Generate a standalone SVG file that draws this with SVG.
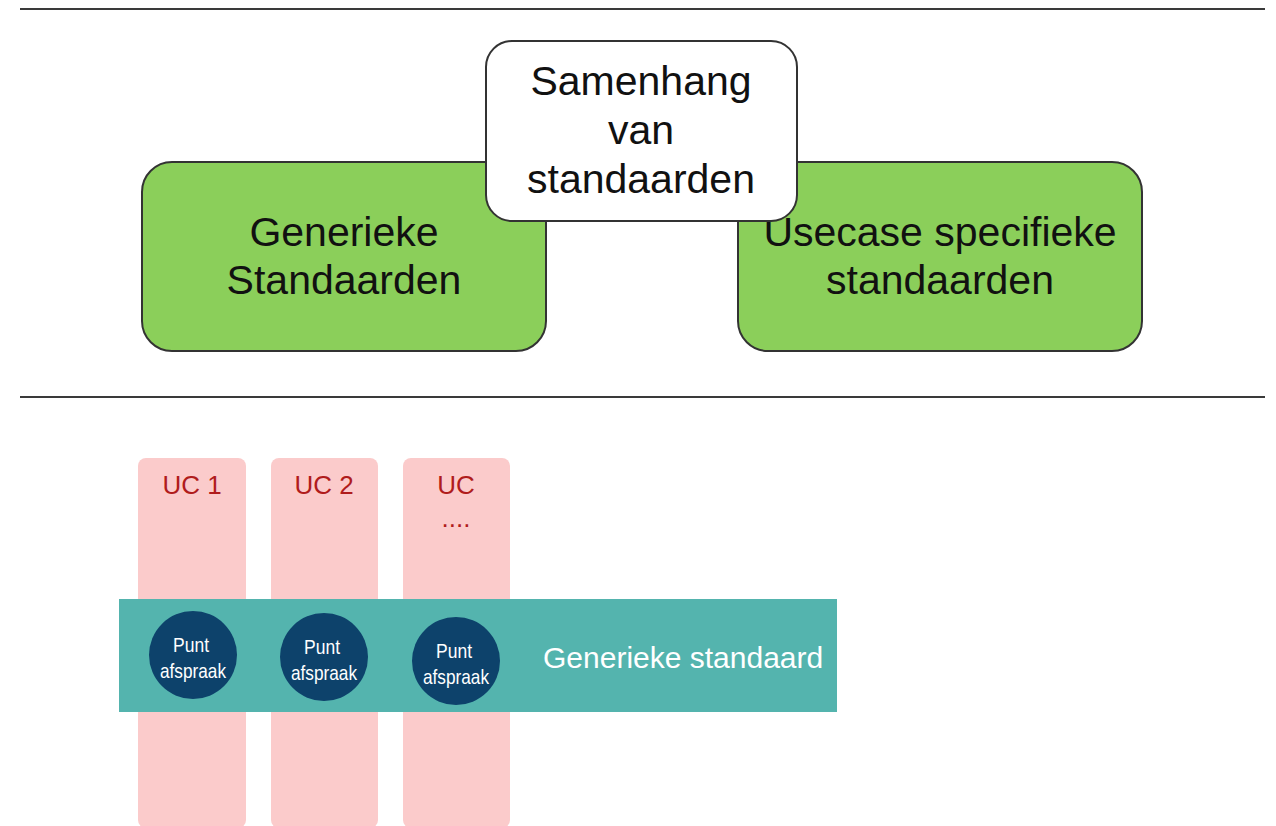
<svg xmlns="http://www.w3.org/2000/svg" width="1276" height="826" viewBox="0 0 1276 826">
<style>
.sep{stroke:#3a3a3a;stroke-width:2}
.green{fill:#8bcf5a;stroke:#333;stroke-width:2}
.white{fill:#fff;stroke:#333;stroke-width:2}
.big{font-family:"Liberation Sans",Arial,sans-serif;font-size:41px;fill:#111;text-anchor:middle}
.uc{fill:#fbcbcb}
.uct{font-family:"Liberation Sans",Arial,sans-serif;font-size:26px;fill:#b01c1c;text-anchor:middle}
.pt{fill:#0d426b}
.ptt{font-family:"Liberation Sans",Arial,sans-serif;font-size:21px;fill:#fff;text-anchor:middle}
</style>
<rect width="1276" height="826" fill="#fff"/>
<g id="separators">
<line class="sep" x1="20" y1="9" x2="1265" y2="9"/>
<line class="sep" x1="20" y1="397" x2="1265" y2="397"/>
</g>
<g id="generieke">
<rect class="green" x="142" y="162" width="404" height="189" rx="30"/>
<text class="big" x="344" y="246">Generieke</text>
<text class="big" x="344" y="294">Standaarden</text>
</g>
<g id="usecase">
<rect class="green" x="738" y="162" width="404" height="189" rx="30"/>
<text class="big" x="940" y="246">Usecase specifieke</text>
<text class="big" x="940" y="294">standaarden</text>
</g>
<g id="samenhang">
<rect class="white" x="486" y="41" width="311" height="180" rx="26"/>
<text class="big" x="641" y="95">Samenhang</text>
<text class="big" x="641" y="144">van</text>
<text class="big" x="641" y="193">standaarden</text>
</g>
<g id="uc1"><rect class="uc" x="138" y="458" width="108" height="370" rx="8"/><text class="uct" x="192" y="494">UC 1</text></g>
<g id="uc2"><rect class="uc" x="271" y="458" width="107" height="370" rx="8"/><text class="uct" x="324" y="494">UC 2</text></g>
<g id="uc3"><rect class="uc" x="403" y="458" width="107" height="370" rx="8"/><text class="uct" x="456" y="494">UC</text><text class="uct" x="456" y="527">....</text></g>
<g id="generieke-standaard">
<rect x="119" y="599" width="718" height="113" fill="#54b4ae"/>
<text x="543" y="668" font-family="Liberation Sans,Arial,sans-serif" font-size="30" fill="#fff">Generieke standaard</text>
</g>
<g id="punt1"><circle class="pt" cx="193" cy="655" r="44"/>
<text class="ptt" x="191" y="652" textLength="36" lengthAdjust="spacingAndGlyphs">Punt</text>
<text class="ptt" x="193" y="678" textLength="66" lengthAdjust="spacingAndGlyphs">afspraak</text></g>
<g id="punt2"><circle class="pt" cx="324" cy="657" r="44"/>
<text class="ptt" x="322" y="654" textLength="36" lengthAdjust="spacingAndGlyphs">Punt</text>
<text class="ptt" x="324" y="680" textLength="66" lengthAdjust="spacingAndGlyphs">afspraak</text></g>
<g id="punt3"><circle class="pt" cx="456" cy="661" r="44"/>
<text class="ptt" x="454" y="658" textLength="36" lengthAdjust="spacingAndGlyphs">Punt</text>
<text class="ptt" x="456" y="684" textLength="66" lengthAdjust="spacingAndGlyphs">afspraak</text></g>
</svg>
